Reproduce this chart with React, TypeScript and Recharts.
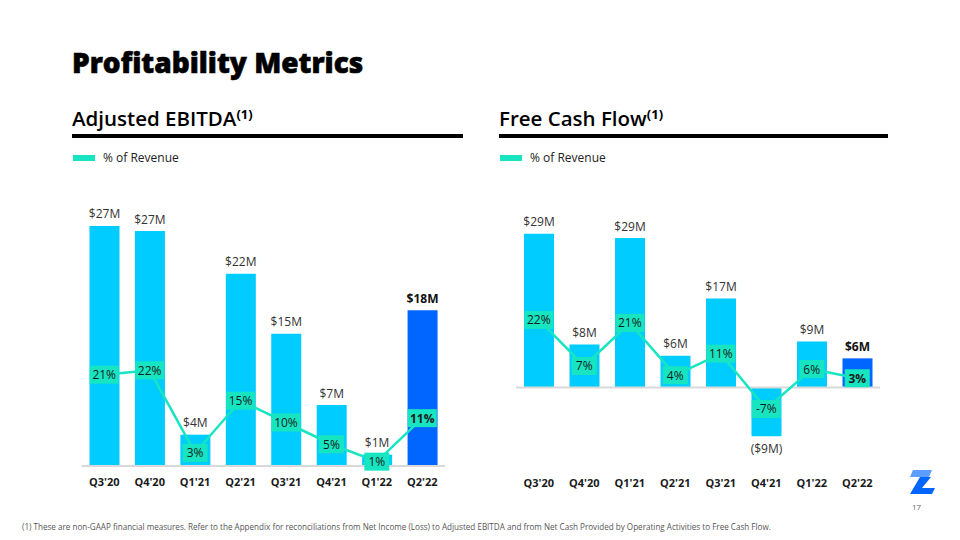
import React from 'react';
import { ComposedChart, Bar, Line, XAxis, YAxis, Cell, LabelList, ReferenceLine } from 'recharts';

const quarters = ["Q3'20", "Q4'20", "Q1'21", "Q2'21", "Q3'21", "Q4'21", "Q1'22", "Q2'22"];

// Adjusted EBITDA ($M) and margin (% of revenue)
const ebitdaValues = [27.6, 27.0, 3.6, 22.1, 15.2, 7.0, 1.3, 17.9];
const ebitdaLabels = ['$27M', '$27M', '$4M', '$22M', '$15M', '$7M', '$1M', '$18M'];
const ebitdaMargin = [21, 22, 3, 15, 10, 5, 1, 11];

// Free cash flow ($M) and margin (% of revenue)
const fcfValues = [29.0, 8.1, 28.2, 6.0, 16.8, -9.2, 8.7, 5.5];
const fcfLabels = ['$29M', '$8M', '$29M', '$6M', '$17M', '($9M)', '$9M', '$6M'];
const fcfMargin = [22, 7, 21, 4, 11, -7, 6, 3];

const FONT = '"Open Sans", sans-serif';
const CYAN = '#00CCFF';
const BLUE = '#0066FF';
const TEAL = '#17E5C1';

const renderValueLabel = (labels: string[], values: number[]) => (p: any) => {
  const i = p.index;
  const x = Number(p.x) + Number(p.width) / 2;
  const y0 = Number(p.y);
  const y1 = y0 + Number(p.height);
  const top = Math.min(y0, y1);
  const bottom = Math.max(y0, y1);
  const last = i === labels.length - 1;
  return (
    <text
      key={`v${i}`}
      x={x}
      y={values[i] < 0 ? bottom + 17 : top - 7.5}
      textAnchor="middle"
      fontSize={12}
      fontWeight={last ? 700 : 400}
      fill={last ? '#111' : '#333'}
      fontFamily={FONT}
    >
      {labels[i]}
    </text>
  );
};

const renderPctLabel = (count: number) => (p: any) => {
  const i = p.index;
  const text = `${p.value}%`;
  const w = text.length >= 3 ? 29 : 25;
  const last = i === count - 1;
  return (
    <g key={`p${i}`}>
      <rect x={p.x - w / 2} y={p.y - 9} width={w} height={18} fill={TEAL} />
      <text
        x={p.x}
        y={p.y + 4.5}
        textAnchor="middle"
        fontSize={12}
        fontWeight={last ? 700 : 400}
        fill="#1a1a1a"
        fontFamily={FONT}
      >
        {text}
      </text>
    </g>
  );
};

interface MetricChartProps {
  values: number[];
  labels: string[];
  margin: number[];
  left: number;
  plot: { left: number; right: number; top: number; bottom: number };
  barDomain: [number, number];
  pctDomain: [number, number];
}

function MetricChart({ values, labels, margin, left, plot, barDomain, pctDomain }: MetricChartProps) {
  const W = 480;
  const H = 500;
  const data = quarters.map((q, i) => ({ quarter: q, value: values[i], pct: margin[i] }));
  return (
    <div style={{ position: 'absolute', left, top: 0 }}>
      <ComposedChart
        width={W}
        height={H}
        data={data}
        margin={{ left: plot.left, right: W - plot.right, top: plot.top, bottom: H - plot.bottom - 30 }}
      >
        <XAxis
          dataKey="quarter"
          height={30}
          axisLine={false}
          tickLine={false}
          tickMargin={6}
          interval={0}
          tick={{ fontSize: 11, fontWeight: 700, fill: '#1a1a1a', fontFamily: FONT }}
        />
        <YAxis yAxisId="bar" hide domain={barDomain} allowDataOverflow />
        <YAxis yAxisId="pct" hide domain={pctDomain} allowDataOverflow />
        <ReferenceLine yAxisId="bar" y={0} stroke="#d9d9d9" strokeWidth={2} />
        <Bar yAxisId="bar" dataKey="value" barSize={30} isAnimationActive={false}>
          {data.map((_, i) => (
            <Cell key={i} fill={i === data.length - 1 ? BLUE : CYAN} />
          ))}
          <LabelList dataKey="value" content={renderValueLabel(labels, values)} />
        </Bar>
        <Line
          yAxisId="pct"
          dataKey="pct"
          type="linear"
          stroke={TEAL}
          strokeWidth={2.5}
          dot={false}
          isAnimationActive={false}
        >
          <LabelList dataKey="pct" content={renderPctLabel(data.length)} />
        </Line>
      </ComposedChart>
    </div>
  );
}

function Heading({ x, ruleEnd, title }: { x: number; ruleEnd: number; title: string }) {
  return (
    <g fontFamily={FONT}>
      <text x={x} y={126} fontSize={20.5} fontWeight={600} fill="#000">
        {title}
        <tspan fontSize={13} fontWeight={700} dy={-7.5}>(1)</tspan>
      </text>
      <rect x={x} y={134} width={ruleEnd - x} height={4} fill="#000" />
      <rect x={x + 1} y={155} width={22} height={6} fill={TEAL} />
      <text x={x + 31} y={162} fontSize={12} fill="#222">% of Revenue</text>
    </g>
  );
}

export default function App() {
  return (
    <div style={{ position: 'absolute', left: 0, top: 0, width: 960, height: 540, background: '#fff', overflow: 'hidden' }}>
      <MetricChart
        values={ebitdaValues}
        labels={ebitdaLabels}
        margin={ebitdaMargin}
        left={0}
        plot={{ left: 81.5, right: 445, top: 205, bottom: 466 }}
        barDomain={[0, 30]}
        pctDomain={[0, 60]}
      />
      <MetricChart
        values={fcfValues}
        labels={fcfLabels}
        margin={fcfMargin}
        left={480}
        plot={{ left: 36, right: 400, top: 202, bottom: 467 }}
        barDomain={[-15, 35]}
        pctDomain={[-25.9, 60.4]}
      />
      <svg width={960} height={540} style={{ position: 'absolute', left: 0, top: 0, pointerEvents: 'none' }}>
        <text x={72} y={73} fontFamily={FONT} fontSize={28} fontWeight={800} fill="#000" stroke="#000" strokeWidth={0.6}>
          Profitability Metrics
        </text>
        <Heading x={72} ruleEnd={463} title="Adjusted EBITDA" />
        <Heading x={499} ruleEnd={888} title="Free Cash Flow" />
        <polygon points="913,470 932,470 929,477 910,477" fill="#5C9DFF" />
        <polygon points="920,477 931,477 922,488 935,488 932,494 910,494" fill="#0066FF" />
        <text x={912} y={510} fontFamily={FONT} fontSize={8} fill="#666">17</text>
        <text x={22} y={530} fontFamily={FONT} fontSize={8.1} fill="#555">
          (1) These are non-GAAP financial measures.  Refer to the Appendix for reconciliations from Net Income (Loss) to Adjusted EBITDA and from Net Cash Provided by Operating Activities to Free Cash Flow.
        </text>
      </svg>
    </div>
  );
}
